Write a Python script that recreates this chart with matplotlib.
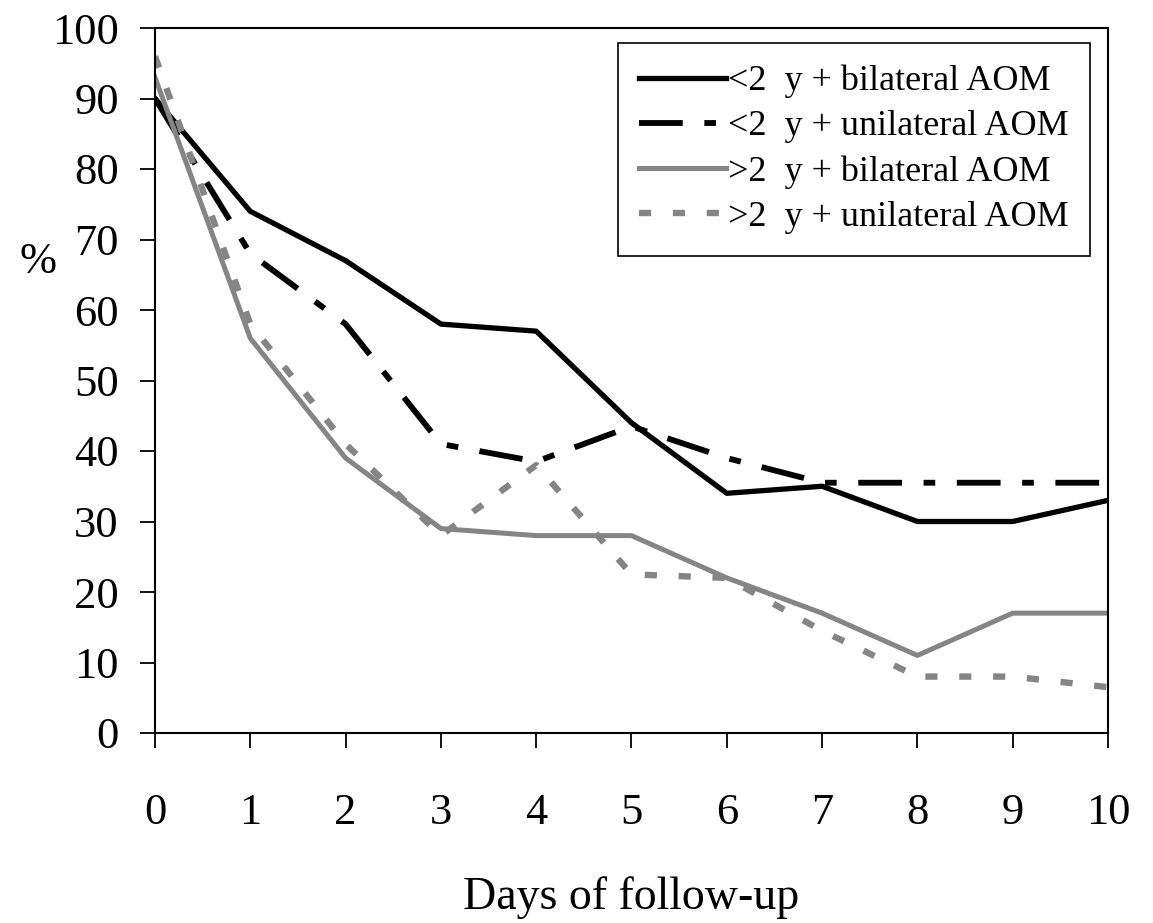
import matplotlib
matplotlib.use("Agg")
import matplotlib.pyplot as plt

# days of follow-up
dagar = [0, 1, 2, 3, 4, 5, 6, 7, 8, 9, 10]

# percent still symptomatic
under2_bilat = [90, 74, 67, 58, 57, 44, 34, 35, 30, 30, 33]
under2_unilat = [90, 68, 58, 41, 38.5, 43.5, 39, 35.5, 35.5, 35.5, 35.5]
over2_bilat = [93, 56, 39, 29, 28, 28, 22, 17, 11, 17, 17]
over2_unilat = [96, 58, 41, 28, 38, 22.5, 22, 14.5, 8, 8, 6.5]

etiketter = ["<2  y + bilateral AOM", "<2  y + unilateral AOM",
             ">2  y + bilateral AOM", ">2  y + unilateral AOM"]

plt.rcParams["font.family"] = ["Liberation Serif", "DejaVu Serif"]

fig = plt.figure(figsize=(11.53, 9.23), dpi=100)
ax = fig.add_axes([155 / 1153, 1 - 733 / 923, (1108 - 155) / 1153, (733 - 28) / 923])

gra = "#858585"
ax.plot(dagar, under2_bilat, color="black", linewidth=3.8, label=etiketter[0])
ax.plot(dagar, under2_unilat, color="black", linewidth=4.2,
        dashes=(7.5, 3.7, 2.0, 3.7), label=etiketter[1])
ax.plot(dagar, over2_bilat, color=gra, linewidth=3.6, label=etiketter[2])
ax.plot(dagar, over2_unilat, color=gra, linewidth=4.6,
        dashes=(1.9, 3.4), label=etiketter[3])

ax.set_xlim(0, 10)
ax.set_ylim(0, 100)
ax.set_xticks(dagar)
ax.set_yticks(range(0, 101, 10))
ax.tick_params(axis="both", direction="out", length=11, width=1.3,
               labelsize=32, color="black")
ax.tick_params(axis="x", pad=32)
ax.tick_params(axis="y", pad=15)
for s in ax.spines.values():
    s.set_linewidth(1.5)
    s.set_color("black")

fig.text(631 / 1153, 1 - 898 / 923, "Days of follow-up", fontsize=33,
         ha="center", va="center")
fig.text(38 / 1153, 1 - 262 / 923, "%", fontsize=32, ha="center", va="center")

leg = ax.legend(loc="upper right", bbox_to_anchor=(1090 / 1153, 1 - 43 / 923),
                bbox_transform=fig.transFigure, borderaxespad=0, fontsize=26,
                handlelength=2.4, handletextpad=0.05, labelspacing=0.33,
                fancybox=False, framealpha=1, edgecolor="black",
                borderpad=0.6)
leg.get_frame().set_linewidth(1.2)

fig.savefig("out.png", dpi=100)
